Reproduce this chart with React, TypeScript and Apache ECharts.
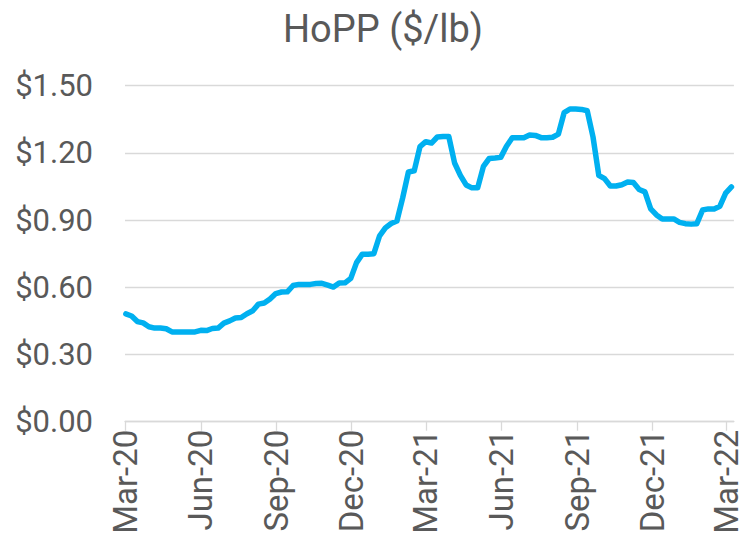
import React, { useEffect, useRef } from "react";
import * as echarts from "echarts";

// Quarter tick dates and their labels
const quarterDates = [
  "2020-03-01", "2020-06-01", "2020-09-01", "2020-12-01",
  "2021-03-01", "2021-06-01", "2021-09-01", "2021-12-01", "2022-03-01",
];
const quarterLabels = [
  "Mar-20", "Jun-20", "Sep-20", "Dec-20",
  "Mar-21", "Jun-21", "Sep-21", "Dec-21", "Mar-22",
];

// Weekly observations starting this date
const firstWeek = "2020-03-02";
const axisStart = "2020-03-01";
const axisEnd = "2022-03-10";

// HoPP ($/lb), weekly
const hoppValues = [
  0.481, 0.472, 0.447, 0.441, 0.424, 0.418, 0.418, 0.415, 0.401, 0.401,
  0.401, 0.401, 0.401, 0.408, 0.407, 0.416, 0.418, 0.44, 0.45, 0.463,
  0.465, 0.482, 0.495, 0.525, 0.53, 0.548, 0.572, 0.579, 0.58, 0.608,
  0.613, 0.613, 0.613, 0.617, 0.618, 0.61, 0.601, 0.619, 0.62, 0.64,
  0.71, 0.748, 0.748, 0.75, 0.83, 0.865, 0.885, 0.896, 0.999, 1.115,
  1.12, 1.228, 1.25, 1.244, 1.271, 1.273, 1.273, 1.155, 1.1, 1.057,
  1.044, 1.044, 1.14, 1.175, 1.177, 1.18, 1.23, 1.268, 1.268, 1.268,
  1.28, 1.278, 1.268, 1.268, 1.27, 1.284, 1.38, 1.396, 1.396, 1.394,
  1.388, 1.271, 1.1, 1.085, 1.052, 1.052, 1.058, 1.07, 1.068, 1.037,
  1.026, 0.95, 0.923, 0.905, 0.905, 0.905, 0.89, 0.884, 0.882, 0.884,
  0.945, 0.95, 0.95, 0.962, 1.02, 1.048,
];

const yTicks = { min: 0, max: 1.5, interval: 0.3 };

const DAY = 86400000;
const dayOffset = (d: string) =>
  Math.round((Date.parse(d + "T00:00:00Z") - Date.parse(axisStart + "T00:00:00Z")) / DAY);

const TEXT = "#595959";
const GRID = "#d9d9d9";
const BLUE = "#00b0f0";
const FONT = "Roboto";

export default function App() {
  const ref = useRef<HTMLDivElement>(null);

  useEffect(() => {
    if (!ref.current) return;
    const chart = echarts.init(ref.current, null, { renderer: "svg" });
    const start = dayOffset(firstWeek);
    const data = hoppValues.map((v, i) => [start + 7 * i, v]);
    const tickDays = quarterDates.map(dayOffset);

    chart.setOption({
      animation: false,
      graphic: [
        {
          type: "text",
          x: 383,
          y: 29,
          style: {
            text: "HoPP ($/lb)",
            fontSize: 38,
            fontFamily: FONT,
            fill: TEXT,
            textAlign: "center",
            textVerticalAlign: "middle",
          },
        },
      ],
      grid: { left: 125, top: 85.7, width: 610, height: 336 },
      xAxis: {
        type: "value",
        min: 0,
        max: dayOffset(axisEnd),
        axisLine: { show: true, lineStyle: { color: GRID, width: 1.3 } },
        axisTick: {
          show: true,
          customValues: tickDays,
          length: 9,
          lineStyle: { color: GRID, width: 1.3 },
        },
        axisLabel: {
          customValues: tickDays,
          rotate: 90,
          margin: 8,
          fontSize: 33,
          lineHeight: 26,
          fontFamily: FONT,
          color: TEXT,
          formatter: (v: number) => {
            const idx = tickDays.indexOf(Math.round(v));
            return idx >= 0 ? quarterLabels[idx] : "";
          },
        },
        splitLine: { show: false },
      },
      yAxis: {
        type: "value",
        min: yTicks.min,
        max: yTicks.max,
        interval: yTicks.interval,
        axisLine: { show: false },
        axisTick: { show: false },
        axisLabel: {
          margin: 32,
          fontSize: 31,
          fontFamily: FONT,
          color: TEXT,
          formatter: (v: number) => "$" + v.toFixed(2),
        },
        splitLine: { show: true, lineStyle: { color: GRID, width: 1.3 } },
      },
      series: [
        {
          type: "line",
          data,
          showSymbol: false,
          symbol: "none",
          lineStyle: { color: BLUE, width: 5.5, cap: "round", join: "round" },
        },
      ],
    });

    return () => chart.dispose();
  }, []);

  return (
    <div
      ref={ref}
      style={{ position: "absolute", left: 0, top: 0, width: 743, height: 542 }}
    />
  );
}
